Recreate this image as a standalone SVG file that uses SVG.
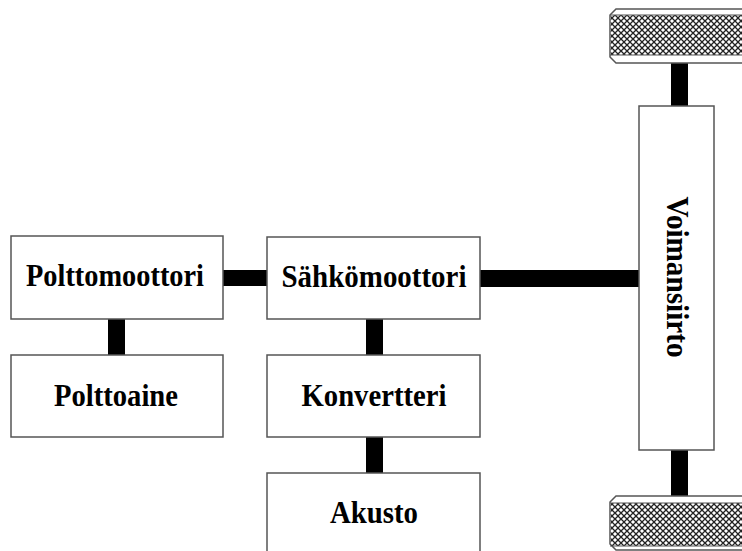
<svg xmlns="http://www.w3.org/2000/svg" width="742" height="551" viewBox="0 0 742 551">
<style>
.box{fill:#fff;stroke:#555;stroke-width:1.5}
.lbl{font-family:"Liberation Serif","Times New Roman",serif;font-weight:bold;font-size:30.5px;fill:#000;text-anchor:middle}
.bar{fill:#000}
.wheel{fill:#fff;stroke:#555;stroke-width:1.5}
.wl{stroke:#555;stroke-width:1.2}
</style>
<defs>
<pattern id="hatch" patternUnits="userSpaceOnUse" width="6" height="6">
<rect width="6" height="6" fill="#fff"/>
<path d="M0,0L6,6M6,0L0,6" stroke="#222" stroke-width="1.3"/>
</pattern>
</defs>
<rect width="742" height="551" fill="#fff"/>
<g id="connectors">
<rect class="bar" x="108" y="319" width="17" height="36"/>
<rect class="bar" x="223" y="270" width="45" height="16"/>
<rect class="bar" x="366" y="319" width="17" height="36"/>
<rect class="bar" x="366" y="437" width="17" height="36"/>
<rect class="bar" x="480" y="270" width="159" height="17"/>
<rect class="bar" x="671" y="62" width="17" height="44"/>
<rect class="bar" x="671" y="450" width="17" height="47"/>
</g>
<g id="polttomoottori">
<rect class="box" x="11" y="236" width="212" height="83"/>
<text class="lbl" x="115" y="286" textLength="178" lengthAdjust="spacingAndGlyphs">Polttomoottori</text>
</g>
<g id="polttoaine">
<rect class="box" x="11" y="355" width="212" height="82"/>
<text class="lbl" x="116" y="406" textLength="124" lengthAdjust="spacingAndGlyphs">Polttoaine</text>
</g>
<g id="sahkomoottori">
<rect class="box" x="267" y="237" width="213" height="82"/>
<text class="lbl" x="374" y="287" textLength="185" lengthAdjust="spacingAndGlyphs">Sähkömoottori</text>
</g>
<g id="konvertteri">
<rect class="box" x="267" y="355" width="213" height="82"/>
<text class="lbl" x="374" y="406" textLength="145" lengthAdjust="spacingAndGlyphs">Konvertteri</text>
</g>
<g id="akusto">
<rect class="box" x="267" y="473" width="213" height="90"/>
<text class="lbl" x="374" y="523" textLength="88" lengthAdjust="spacingAndGlyphs">Akusto</text>
</g>
<g id="voimansiirto">
<rect class="box" x="639" y="106" width="75" height="344"/>
<text class="lbl" transform="translate(667,277) rotate(90)" textLength="161" lengthAdjust="spacingAndGlyphs">Voimansiirto</text>
</g>
<g id="wheel-top">
<path class="wheel" d="M616,9L750,9L750,63L616,63L610,57L610,15Z"/>
<rect x="610.8" y="15" width="140" height="40" fill="url(#hatch)"/>
<line class="wl" x1="610" y1="15" x2="750" y2="15"/>
<line class="wl" x1="610" y1="55" x2="750" y2="55"/>
</g>
<g id="wheel-bottom">
<path class="wheel" d="M616,496L750,496L750,550L616,550L610,544L610,502Z"/>
<rect x="610.8" y="503" width="140" height="43" fill="url(#hatch)"/>
<line class="wl" x1="610" y1="503" x2="750" y2="503"/>
<line class="wl" x1="610" y1="546" x2="750" y2="546"/>
</g>
</svg>
